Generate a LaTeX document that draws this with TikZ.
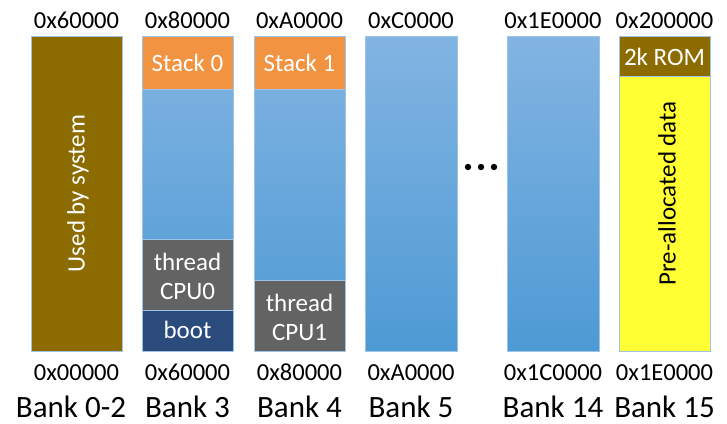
\documentclass[tikz,border=0pt]{standalone}
\usepackage{fontspec}
\setmainfont{Carlito}
\begin{document}
\begin{tikzpicture}[x=1pt,y=-1pt,
  edge/.style={draw=edgeblue,line width=0.8pt},
  membar/.style={edge,top color=blueTop,bottom color=blueBot},
  region/.style={edge,inner sep=0pt,outer sep=0pt},
  inlbl/.style={text=white,font=\fontsize{25}{29}\selectfont,align=center,inner sep=0pt},
  hexlbl/.style={font=\fontsize{24.5}{28}\selectfont,anchor=base,inner sep=0pt},
  banklbl/.style={font=\fontsize{31}{36}\selectfont,anchor=base,inner sep=0pt}]
\definecolor{edgeblue}{HTML}{9DC3E6}
\definecolor{blueTop}{HTML}{82B4E2}
\definecolor{blueBot}{HTML}{4E9AD4}
\definecolor{olive}{HTML}{8C6C00}
\definecolor{stackor}{HTML}{F29341}
\definecolor{thrgray}{HTML}{636363}
\definecolor{bootblue}{HTML}{2A4B7C}
\definecolor{prey}{HTML}{FFFF33}
\useasboundingbox (0,0) rectangle (727,423);
% Bank 0-2
\draw[region,fill=olive] (31,36) rectangle (122,351);
\node[inlbl,rotate=90] (sys) at (78,193.5) {Used by system};
% Bank 3
\draw[membar] (142,36) rectangle (233,351);
\draw[region,fill=stackor] (142,36) rectangle (233,89);
\node[inlbl] (s0) at (187.5,63) {Stack 0};
\draw[region,fill=thrgray] (142,239) rectangle (233,310);
\node[inlbl] (t0) at (187.5,276) {thread\\CPU0};
\draw[region,fill=bootblue] (142,310) rectangle (233,351);
\node[inlbl] (boot) at (187.5,330) {boot};
% Bank 4
\draw[membar] (254,36) rectangle (345,351);
\draw[region,fill=stackor] (254,36) rectangle (345,89);
\node[inlbl] (s1) at (299.5,63) {Stack 1};
\draw[region,fill=thrgray] (254,280) rectangle (345,351);
\node[inlbl] (t1) at (299.5,317) {thread\\CPU1};
% Bank 5
\draw[membar] (365,36) rectangle (457,351);
% dots
\node (dots) at (481,167) {};
\foreach \dx in {-13,0,13} \fill (481+\dx,167) circle (3.2);
% Bank 14
\draw[membar] (507,36) rectangle (599,351);
% Bank 15
\draw[region,fill=prey] (619,36) rectangle (710,351);
\draw[region,fill=olive] (619,36) rectangle (710,76);
\node[inlbl] (rom) at (664.5,57) {2k ROM};
\node[inlbl,text=black,rotate=90] (pre) at (667,193.5) {Pre-allocated data};
% top addresses
\node[hexlbl] (a1) at (76.5,28) {0x60000};
\node[hexlbl] (a2) at (187.5,28) {0x80000};
\node[hexlbl] (a3) at (299.5,28) {0xA0000};
\node[hexlbl] (a4) at (411,28) {0xC0000};
\node[hexlbl] (a5) at (553,28) {0x1E0000};
\node[hexlbl] (a6) at (664.5,28) {0x200000};
% bottom addresses
\node[hexlbl] (b1) at (76.5,380) {0x00000};
\node[hexlbl] (b2) at (187.5,380) {0x60000};
\node[hexlbl] (b3) at (299.5,380) {0x80000};
\node[hexlbl] (b4) at (411,380) {0xA0000};
\node[hexlbl] (b5) at (553,380) {0x1C0000};
\node[hexlbl] (b6) at (664.5,380) {0x1E0000};
% bank names
\node[banklbl] (n1) at (71,417) {Bank 0-2};
\node[banklbl] (n2) at (187.5,417) {Bank 3};
\node[banklbl] (n3) at (299.5,417) {Bank 4};
\node[banklbl] (n4) at (411,417) {Bank 5};
\node[banklbl] (n5) at (553,417) {Bank 14};
\node[banklbl] (n6) at (664.5,417) {Bank 15};
\end{tikzpicture}
\end{document}
